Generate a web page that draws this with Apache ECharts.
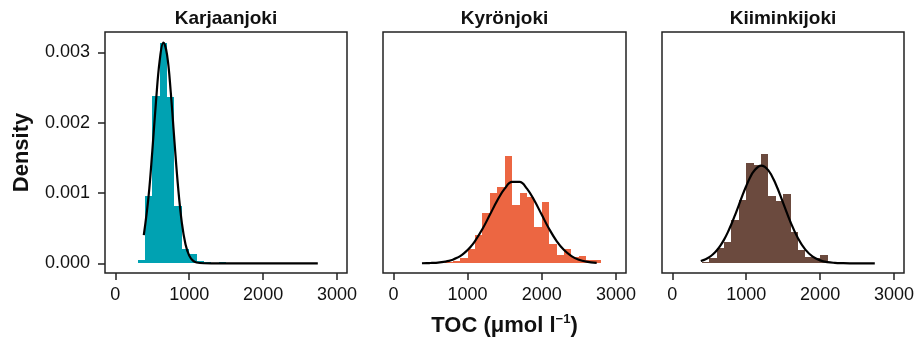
<!DOCTYPE html>
<html>
<head>
<meta charset="utf-8">
<script src="https://cdn.jsdelivr.net/npm/echarts@6/dist/echarts.min.js"></script>
<style>
html, body { margin: 0; padding: 0; background: #fff; }
#chart { width: 917px; height: 337px; }
</style>
</head>
<body>
<div id="chart"></div>
<script>
// 河流 TOC 密度直方图 + 正态曲线
var rivers = ['Karjaanjoki', 'Kyrönjoki', 'Kiiminkijoki'];
var colors = ['#00a2b2', '#ec6642', '#6b4a3e'];
var xTicks = [0, 1000, 2000, 3000];
var yTicks = [0, 0.001, 0.002, 0.003];
var binWidth = 100;

// 直方图: 每个柱的起点和密度
var binStart1 = [300, 400, 500, 600, 700, 800, 900, 1000, 1100, 1200, 1300, 1400];
var density1 = [0.00005, 0.00096, 0.00238, 0.00313, 0.00237, 0.00082, 0.00021, 0.00013, 0.00003, 0.00002, 0.00001, 0.00002];

var binStart2 = [700, 800, 900, 1000, 1100, 1200, 1300, 1400, 1500, 1600, 1700, 1800, 1900, 2000, 2100, 2200, 2300, 2400, 2500, 2600, 2700];
var density2 = [0.00002, 0.00003, 0.00007, 0.0002, 0.0004, 0.00071, 0.001, 0.00108, 0.00153, 0.00083, 0.001, 0.00095, 0.00052, 0.00087, 0.00028, 0.00012, 0.00021, 0.00009, 0.0001, 0.00005, 0.00005];

var binStart3 = [400, 500, 600, 700, 800, 900, 1000, 1100, 1200, 1300, 1400, 1500, 1600, 1700, 1800, 1900, 2000, 2100, 2200];
var density3 = [0.00002, 0.00008, 0.00022, 0.0003, 0.00062, 0.0009, 0.00143, 0.0014, 0.00155, 0.00096, 0.00089, 0.00098, 0.00045, 0.00019, 0.00009, 0.00007, 0.00012, 0.00002, 0.00001];

// 拟合曲线
var curveX = [385, 450, 500, 550, 600, 650, 700, 750, 800, 850, 900, 950, 1000, 1050, 1100, 1200, 1300, 1400, 1500, 1600, 1700, 1800, 1900, 2000, 2100, 2200, 2300, 2400, 2500, 2600, 2740];
var curve1 = [0.0004, 0.000957, 0.001593, 0.0023, 0.002883, 0.003138, 0.002965, 0.002433, 0.001733, 0.001072, 0.000576, 0.000268, 0.000109, 0.000038, 0.000012, 0.000001, 0, 0, 0, 0, 0, 0, 0, 0, 0, 0, 0, 0, 0, 0, 0];
var curve2 = [0.000001, 0.000002, 0.000004, 0.000006, 0.00001, 0.000016, 0.000024, 0.000035, 0.000051, 0.000074, 0.000103, 0.000141, 0.000188, 0.000247, 0.000316, 0.000487, 0.000689, 0.000893, 0.001062, 0.001157, 0.001157, 0.001062, 0.000893, 0.000689, 0.000487, 0.000316, 0.000188, 0.000103, 0.000051, 0.000024, 0.000007];
var curve3 = [0.000033, 0.000059, 0.000088, 0.000128, 0.000182, 0.000251, 0.000337, 0.00044, 0.000559, 0.00069, 0.000829, 0.000969, 0.0011, 0.001216, 0.001307, 0.00139, 0.001322, 0.001125, 0.000857, 0.000584, 0.000356, 0.000194, 0.000095, 0.000042, 0.000016, 0.000006, 0.000002, 0, 0, 0, 0];

var binStarts = [binStart1, binStart2, binStart3];
var densities = [density1, density2, density3];
var curves = [curve1, curve2, curve3];

var FONT = 'Liberation Sans, Arial, Helvetica, sans-serif';
var gridLefts = [105, 383, 662];
var gridWidths = [242, 243, 242];

var myChart = echarts.init(document.getElementById('chart'));

// 柱子取整到像素, 避免相邻柱之间出现白缝
function renderHist(params, api) {
	var p0 = api.coord([api.value(0), api.value(2)]);
	var p1 = api.coord([api.value(1), 0]);
	var x0 = Math.round(p0[0]), x1 = Math.round(p1[0]);
	var y0 = Math.round(p0[1]), y1 = Math.round(p1[1]);
	return {
		type : 'rect',
		shape : {
			x : x0,
			y : y0,
			width : x1 - x0,
			height : y1 - y0
		},
		style : {
			fill : api.visual('color')
		}
	};
}

var grids = [], xAxes = [], yAxes = [], series = [], graphics = [];
for (var i = 0; i < 3; i++) {
	grids.push({
		left : gridLefts[i],
		width : gridWidths[i],
		top : 32,
		height : 241,
		show : true,
		borderColor : '#222',
		borderWidth : 1.5,
		containLabel : false,
		outerBoundsMode : 'none'
	});
	xAxes.push({
		type : 'value',
		gridIndex : i,
		position : 'bottom',
		min : -140,
		max : 3135,
		splitLine : { show : false },
		axisLine : { show : false, onZero : false },
		axisTick : {
			show : true,
			length : 7,
			customValues : xTicks,
			lineStyle : { color : '#222', width : 1.5 }
		},
		axisLabel : {
			show : true,
			margin : 13,
			customValues : xTicks,
			color : '#111',
			fontSize : 18,
			fontFamily : FONT,
			formatter : function(v) {
				return String(v);
			}
		},
		name : i === 1 ? '{a|TOC (μmol l}{s|−1}{a|)}' : '',
		nameLocation : 'middle',
		nameGap : 40,
		nameTextStyle : {
			rich : {
				a : { fontSize : 22, fontWeight : 'bold', fontFamily : FONT, color : '#111', lineHeight : 26 },
				s : { fontSize : 13, fontWeight : 'bold', fontFamily : FONT, color : '#111', verticalAlign : 'top', lineHeight : 26 }
			}
		}
	});
	yAxes.push({
		type : 'value',
		gridIndex : i,
		position : 'left',
		min : -0.000138,
		max : 0.00329,
		splitLine : { show : false },
		axisLine : { show : false, onZero : false },
		axisTick : {
			show : i === 0,
			length : 7,
			customValues : yTicks,
			lineStyle : { color : '#222', width : 1.5 }
		},
		axisLabel : {
			show : i === 0,
			margin : 15,
			customValues : yTicks,
			color : '#111',
			fontSize : 18,
			fontFamily : FONT,
			formatter : function(v) {
				return v.toFixed(3);
			}
		},
		name : i === 0 ? 'Density' : '',
		nameLocation : 'middle',
		nameGap : 72,
		nameTextStyle : {
			fontSize : 22,
			fontWeight : 'bold',
			fontFamily : FONT,
			color : '#111'
		}
	});

	var histData = [];
	for (var j = 0; j < binStarts[i].length; j++) {
		histData.push([binStarts[i][j], binStarts[i][j] + binWidth, densities[i][j]]);
	}
	series.push({
		type : 'custom',
		xAxisIndex : i,
		yAxisIndex : i,
		renderItem : renderHist,
		itemStyle : { color : colors[i] },
		encode : { x : [0, 1], y : 2 },
		data : histData,
		z : 2
	});

	var lineData = [];
	for (var k = 0; k < curveX.length; k++) {
		lineData.push([curveX[k], curves[i][k]]);
	}
	series.push({
		type : 'line',
		xAxisIndex : i,
		yAxisIndex : i,
		data : lineData,
		smooth : 0.4,
		symbol : 'none',
		lineStyle : { color : '#000', width : 2.2 },
		z : 3
	});

	graphics.push({
		type : 'text',
		x : gridLefts[i] + gridWidths[i] / 2,
		y : 19,
		style : {
			text : rivers[i],
			fill : '#111',
			font : 'bold 19px ' + FONT,
			textAlign : 'center',
			textVerticalAlign : 'middle'
		}
	});
}

myChart.setOption({
	animation : false,
	backgroundColor : '#fff',
	grid : grids,
	xAxis : xAxes,
	yAxis : yAxes,
	series : series,
	graphic : graphics
});
</script>
</body>
</html>
